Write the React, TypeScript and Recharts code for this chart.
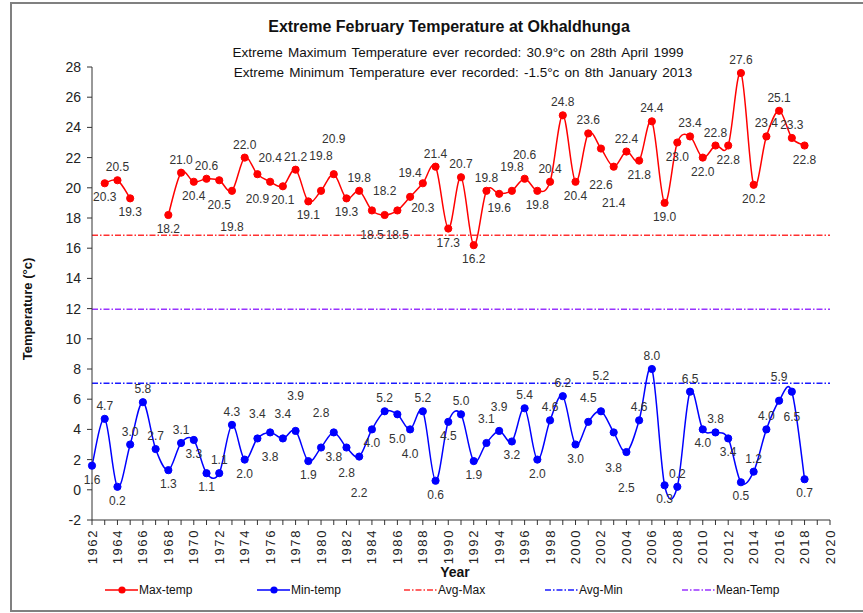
import React from "react";
import { LineChart, Line, XAxis, YAxis, ReferenceLine } from "recharts";

const years = [
  1962, 1963, 1964, 1965, 1966, 1967, 1968, 1969, 1970, 1971, 1972, 1973, 1974, 1975, 1976, 1977, 1978, 1979, 1980,
  1981, 1982, 1983, 1984, 1985, 1986, 1987, 1988, 1989, 1990, 1991, 1992, 1993, 1994, 1995, 1996, 1997, 1998, 1999,
  2000, 2001, 2002, 2003, 2004, 2005, 2006, 2007, 2008, 2009, 2010, 2011, 2012, 2013, 2014, 2015, 2016, 2017, 2018,
];

const maxTemp: (number | null)[] = [
  null, 20.3, 20.5, 19.3, null, null, 18.2, 21.0, 20.4, 20.6, 20.5, 19.8, 22.0, 20.9, 20.4, 20.1, 21.2, 19.1, 19.8,
  20.9, 19.3, 19.8, 18.5, 18.2, 18.5, 19.4, 20.3, 21.4, 17.3, 20.7, 16.2, 19.8, 19.6, 19.8, 20.6, 19.8, 20.4, 24.8,
  20.4, 23.6, 22.6, 21.4, 22.4, 21.8, 24.4, 19.0, 23.0, 23.4, 22.0, 22.8, 22.8, 27.6, 20.2, 23.4, 25.1, 23.3, 22.8,
];

const minTemp: (number | null)[] = [
  1.6, 4.7, 0.2, 3.0, 5.8, 2.7, 1.3, 3.1, 3.3, 1.1, 1.1, 4.3, 2.0, 3.4, 3.8, 3.4, 3.9, 1.9, 2.8,
  3.8, 2.8, 2.2, 4.0, 5.2, 5.0, 4.0, 5.2, 0.6, 4.5, 5.0, 1.9, 3.1, 3.9, 3.2, 5.4, 2.0, 4.6, 6.2,
  3.0, 4.5, 5.2, 3.8, 2.5, 4.6, 8.0, 0.3, 0.2, 6.5, 4.0, 3.8, 3.4, 0.5, 1.2, 4.0, 5.9, 6.5, 0.7,
];

const avgMax = 16.85;
const avgMin = 7.05;
const meanTemp = 11.95;

const yTicks = [-2, 0, 2, 4, 6, 8, 10, 12, 14, 16, 18, 20, 22, 24, 26, 28];
const xTicks = [
  1962, 1963, 1964, 1965, 1966, 1967, 1968, 1969, 1970, 1971, 1972, 1973, 1974, 1975, 1976, 1977, 1978, 1979, 1980,
  1981, 1982, 1983, 1984, 1985, 1986, 1987, 1988, 1989, 1990, 1991, 1992, 1993, 1994, 1995, 1996, 1997, 1998, 1999,
  2000, 2001, 2002, 2003, 2004, 2005, 2006, 2007, 2008, 2009, 2010, 2011, 2012, 2013, 2014, 2015, 2016, 2017, 2018,
  2019, 2020,
];

const data = years.map((year, i) => ({ year, max: maxTemp[i], min: minTemp[i] }));

const FONT = "'Liberation Sans', Arial, sans-serif";
const RED = "#ff0000";
const BLUE = "#0000ff";
const AVG_MAX_C = "#ff3030";
const AVG_MIN_C = "#1a1aff";
const MEAN_C = "#9933ff";
const DASH = "6 2 1.5 2";

// plot box, used only to keep the data labels from running into each other
const PX_YEAR = 738 / 58;
const PX_DEG = 453 / 30;
const LABEL_W = 22;
const LABEL_H = 11;

// excel-like smoothing: bezier with catmull-rom control points
const excelSmooth = (context: any) => {
  let pts: number[][] = [];
  return {
    areaStart() {},
    areaEnd() {},
    lineStart() {
      pts = [];
    },
    point(x: number, y: number) {
      pts.push([+x, +y]);
    },
    lineEnd() {
      const n = pts.length;
      if (!n) return;
      context.moveTo(pts[0][0], pts[0][1]);
      if (n === 1) {
        context.lineTo(pts[0][0], pts[0][1]);
        return;
      }
      const t = 1 / 6;
      for (let i = 0; i < n - 1; i++) {
        const p0 = pts[Math.max(i - 1, 0)];
        const p1 = pts[i];
        const p2 = pts[i + 1];
        const p3 = pts[Math.min(i + 2, n - 1)];
        context.bezierCurveTo(
          p1[0] + (p2[0] - p0[0]) * t,
          p1[1] + (p2[1] - p0[1]) * t,
          p2[0] - (p3[0] - p1[0]) * t,
          p2[1] - (p3[1] - p1[1]) * t,
          p2[0],
          p2[1]
        );
      }
    },
  };
};

type Box = { x0: number; y0: number; x1: number; y1: number };
const overlap = (a: Box, b: Box) =>
  Math.max(0, Math.min(a.x1, b.x1) - Math.max(a.x0, b.x0)) * Math.max(0, Math.min(a.y1, b.y1) - Math.max(a.y0, b.y0));

// greedy label placement: up if the value rose, down otherwise, then try other slots
const labelOffsets = (values: (number | null)[]) => {
  const pos = values.map((v, i) => (v == null ? null : { x: i * PX_YEAR, y: (28 - v) * PX_DEG }));
  const dots: Box[] = pos.filter(Boolean).map((p) => ({ x0: p!.x - 4, y0: p!.y - 4, x1: p!.x + 4, y1: p!.y + 4 }));
  const placed: Box[] = [];
  return values.map((v, i) => {
    const p = pos[i];
    if (v == null || !p) return { dx: 0, dy: 0 };
    const prev = values[i - 1];
    const next = values[i + 1];
    let up = true;
    if (prev != null) up = v > prev;
    else if (next != null) up = v > next;
    const upSlots = [-9, -20, -31];
    const downSlots = [18, 29, 40];
    const pref = up ? upSlots : downSlots;
    const other = up ? downSlots : upSlots;
    const cands = [
      { dx: 0, dy: pref[0] },
      { dx: 0, dy: other[0] },
      { dx: 0, dy: pref[1] },
      { dx: 0, dy: other[1] },
      { dx: 0, dy: pref[2] },
    ];
    let best = cands[0];
    let bestScore = Infinity;
    for (const c of cands) {
      const cy = p.y + c.dy - 4;
      const box = { x0: p.x - LABEL_W / 2, x1: p.x + LABEL_W / 2, y0: cy - LABEL_H / 2, y1: cy + LABEL_H / 2 };
      let score = 0;
      placed.forEach((b) => (score += overlap(box, b) * 10));
      dots.forEach((b) => (score += overlap(box, b)));
      if (score < bestScore) {
        bestScore = score;
        best = c;
      }
      if (score === 0) break;
    }
    const cy = p.y + best.dy - 4;
    placed.push({ x0: p.x - LABEL_W / 2, x1: p.x + LABEL_W / 2, y0: cy - LABEL_H / 2, y1: cy + LABEL_H / 2 });
    return best;
  });
};

const makeDot = (values: (number | null)[], color: string) => {
  const offs = labelOffsets(values);
  return (p: any) => {
    const { cx, cy, index } = p;
    const v = values[index];
    if (v == null || cx == null || cy == null) return <g key={`d-${color}-${index}`} />;
    const o = offs[index];
    return (
      <g key={`d-${color}-${index}`}>
        <circle cx={cx} cy={cy} r={3.6} fill={color} stroke={color} />
        <text x={cx + o.dx} y={cy + o.dy} textAnchor="middle" fontSize={12} fontFamily={FONT} fill="#333">
          {v.toFixed(1)}
        </text>
      </g>
    );
  };
};

const YearTick = (props: any) => {
  const { x, y, payload } = props;
  if (payload.value % 2 !== 0) return <g />;
  return (
    <text
      x={x}
      y={y + 2}
      transform={`rotate(-90, ${x}, ${y + 2})`}
      textAnchor="end"
      dominantBaseline="central"
      fontSize={13}
      letterSpacing={1.6}
      fontFamily={FONT}
      fill="#222"
    >
      {payload.value}
    </text>
  );
};

const legendItems = [
  { name: "Max-temp", color: RED, dashed: false, left: 105 },
  { name: "Min-temp", color: BLUE, dashed: false, left: 257 },
  { name: "Avg-Max", color: AVG_MAX_C, dashed: true, left: 404 },
  { name: "Avg-Min", color: AVG_MIN_C, dashed: true, left: 545 },
  { name: "Mean-Temp", color: MEAN_C, dashed: true, left: 682 },
];

const App: React.FC = () => (
  <div
    style={{
      position: "absolute",
      left: 0,
      top: 0,
      width: 863,
      height: 613,
      overflow: "hidden",
      background: "#fff",
      fontFamily: FONT,
    }}
  >
    <div
      style={{
        position: "absolute",
        left: 10,
        top: 2,
        width: 900,
        height: 606,
        border: "2px solid #808080",
      }}
    />
    <LineChart
      width={863}
      height={613}
      data={data}
      margin={{ top: 67, right: 33, left: 32, bottom: 53 }}
      style={{ position: "absolute", left: 0, top: 0 }}
    >
      <XAxis
        dataKey="year"
        type="number"
        domain={[1962, 2020]}
        ticks={xTicks}
        interval={0}
        height={40}
        tick={<YearTick />}
        tickSize={5}
        axisLine={{ stroke: "#333" }}
        tickLine={{ stroke: "#333" }}
      />
      <YAxis
        domain={[-2, 28]}
        ticks={yTicks}
        interval={0}
        width={60}
        tickSize={5}
        tickMargin={6}
        axisLine={{ stroke: "#333" }}
        tickLine={{ stroke: "#333" }}
        tick={{ fontSize: 14, fill: "#222", fontFamily: FONT }}
      />
      <ReferenceLine y={avgMax} stroke={AVG_MAX_C} strokeDasharray={DASH} strokeWidth={1.5} />
      <ReferenceLine y={meanTemp} stroke={MEAN_C} strokeDasharray={DASH} strokeWidth={1.5} />
      <ReferenceLine y={avgMin} stroke={AVG_MIN_C} strokeDasharray={DASH} strokeWidth={1.5} />
      <Line
        dataKey="max"
        type={excelSmooth as any}
        stroke={RED}
        strokeWidth={1.5}
        dot={makeDot(maxTemp, RED)}
        activeDot={false}
        isAnimationActive={false}
      />
      <Line
        dataKey="min"
        type={excelSmooth as any}
        stroke={BLUE}
        strokeWidth={1.5}
        dot={makeDot(minTemp, BLUE)}
        activeDot={false}
        isAnimationActive={false}
      />
    </LineChart>

    <div
      style={{
        position: "absolute",
        left: 149,
        top: 18,
        width: 600,
        textAlign: "center",
        fontSize: 16,
        fontWeight: "bold",
        color: "#111",
      }}
    >
      Extreme February Temperature at Okhaldhunga
    </div>
    <div
      style={{ position: "absolute", left: 158, top: 45, width: 600, textAlign: "center", fontSize: 13.5, color: "#111", wordSpacing: 1.5 }}
    >
      Extreme Maximum Temperature ever recorded: 30.9°c on 28th April 1999
    </div>
    <div
      style={{ position: "absolute", left: 163, top: 65, width: 600, textAlign: "center", fontSize: 13.5, color: "#111", wordSpacing: 1.5 }}
    >
      Extreme Minimum Temperature ever recorded: -1.5°c on 8th January 2013
    </div>

    <div
      style={{
        position: "absolute",
        left: 28 - 100,
        top: 309 - 10,
        width: 200,
        height: 20,
        lineHeight: "20px",
        textAlign: "center",
        transform: "rotate(-90deg)",
        fontSize: 13,
        fontWeight: "bold",
        color: "#111",
      }}
    >
      Temperature (°c)
    </div>
    <div
      style={{ position: "absolute", left: 405, top: 564, width: 100, textAlign: "center", fontSize: 14, fontWeight: "bold", color: "#111" }}
    >
      Year
    </div>

    {legendItems.map((it) => (
      <div
        key={it.name}
        style={{ position: "absolute", left: it.left, top: 582, height: 16, display: "flex", alignItems: "center" }}
      >
        <svg width={33} height={16}>
          <line
            x1={0}
            y1={8}
            x2={33}
            y2={8}
            stroke={it.color}
            strokeWidth={1.5}
            strokeDasharray={it.dashed ? DASH : undefined}
          />
          {!it.dashed && <circle cx={17} cy={8} r={3.6} fill={it.color} />}
        </svg>
        <span style={{ fontSize: 12, color: "#111", marginLeft: 1 }}>{it.name}</span>
      </div>
    ))}
  </div>
);

export default App;
